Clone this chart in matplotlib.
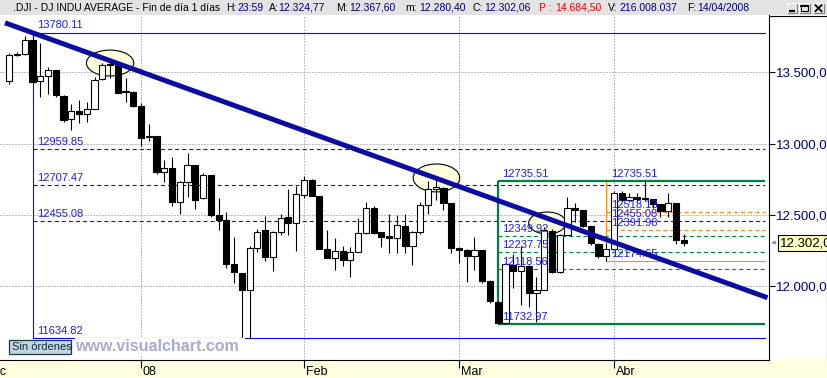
import numpy as np
import pandas as pd
import matplotlib
matplotlib.use("Agg")
import matplotlib.pyplot as plt
from matplotlib.patches import Ellipse, Rectangle

plt.rcParams['font.family'] = ['Liberation Sans', 'DejaVu Sans']
plt.rcParams['lines.scale_dashes'] = False

# ---------------- data ----------------
holidays = ['2007-12-25', '2008-01-01', '2008-01-21', '2008-02-18', '2008-03-21']
dates = pd.bdate_range('2007-12-06', '2008-04-14').drop(pd.to_datetime(holidays))

opens = [13441, 13620, 13627, 13727, 13438, 13475, 13517, 13338, 13170, 13231,
         13208, 13246, 13452, 13549, 13550, 13360, 13365, 13262, 13045, 13055,
         12800, 12827, 12590, 12735, 12852, 12617, 12778, 12501, 12467, 12159,
         12090, 11971, 12272, 12395, 12207, 12384, 12483, 12442, 12638, 12743,
         12633, 12262, 12200, 12248, 12182, 12240, 12373, 12552, 12378, 12350,
         12337, 12426, 12283, 12381, 12570, 12685, 12690, 12582, 12266, 12258,
         12213, 12254, 12040, 11893, 11740, 12148, 12110, 12145, 11950, 11975,
         12390, 12100, 12361, 12547, 12532, 12422, 12300, 12216, 12264, 12654,
         12608, 12626, 12620, 12610, 12577, 12527, 12581, 12324.77]
highs = [13634, 13645, 13755, 13780.11, 13710, 13535, 13520, 13342, 13278, 13305,
         13294, 13470, 13568, 13575, 13575, 13459, 13370, 13286, 13138, 13057,
         12886, 12909, 12740, 12933, 12852, 12797, 12781, 12617, 12520, 12348,
         12095, 12285, 12400, 12493, 12390, 12505, 12682, 12705, 12776, 12750,
         12633, 12395, 12337, 12283, 12278, 12477, 12590, 12560, 12380, 12505,
         12500, 12505, 12385, 12590, 12738, 12769, 12695, 12585, 12278, 12262,
         12348, 12255, 12045, 11900, 12160, 12230, 12280, 12150, 12067, 12415,
         12400, 12370, 12628, 12582, 12535, 12425, 12305, 12302, 12670, 12670,
         12656, 12656, 12735.51, 12615, 12580, 12652, 12582, 12367.60]
lows = [13420, 13612, 13620, 13425, 13325, 13350, 13330, 13155, 13096, 13147,
        13155, 13246, 13450, 13460, 13356, 13294, 13255, 12984, 13020, 12790,
        12735, 12565, 12505, 12628, 12545, 12610, 12488, 12395, 12126, 12021,
        11634.82, 11640, 12243, 12180, 12110, 12360, 12360, 12250, 12620, 12630,
        12260, 12195, 12114, 12140, 12067, 12240, 12370, 12370, 12278, 12231,
        12231, 12231, 12150, 12370, 12505, 12605, 12535, 12231, 12160, 12032,
        12114, 12021, 11880, 11732.97, 11733, 11986, 11870, 11857, 11752, 11972,
        12095, 12090, 12360, 12453, 12418, 12290, 12196, 12174.65, 12262, 12600,
        12590, 12590, 12600, 12550, 12488, 12488, 12300, 12280.40]
closes = [13620, 13626, 13727, 13432, 13473, 13518, 13339, 13167, 13232, 13207,
          13245, 13450, 13550, 13551, 13359, 13365, 13264, 13043, 13057, 12800,
          12827, 12589, 12735, 12853, 12606, 12778, 12501, 12466, 12159, 12099,
          11971, 12270, 12378, 12207, 12384, 12480, 12442, 12650, 12743, 12635,
          12265, 12201, 12247, 12182, 12240, 12373, 12552, 12376, 12348, 12337,
          12427, 12284, 12381, 12570, 12684, 12694, 12582, 12266, 12258, 12213,
          12254, 12040, 11894, 11740, 12156, 12110, 12145, 11951, 11972, 12392,
          12099, 12361, 12548, 12532, 12422, 12302, 12216, 12263, 12654, 12608,
          12626, 12609, 12612, 12577, 12527, 12581, 12325, 12302.06]

month_labels = ['Dic', '08', 'Feb', 'Mar', 'Abr']
month_first = ['2007-12-03', '2008-01-02', '2008-02-01', '2008-03-03', '2008-04-01']
price_ticks = [12000, 12500, 13000, 13500]

fib_blue = [13780.11, 12959.85, 12707.47, 12455.08, 11634.82]
fib_green = [12735.51, 12349.92, 12237.75, 12118.56, 11732.97]
fib_orange = [12735.51, 12518.13, 12455.08, 12391.98, 12174.65]
fib_anchor_dates = ['2007-12-11', '2008-03-10', '2008-03-31']

trend_idx = [-0.55, 97.8]
trend_prices = [13848, 11920]

ellipse_idx = [13.0, 55.1, 69.4]
ellipse_price = [13566, 12760, 12444]
ellipse_w = [6.1, 6.0, 4.8]
ellipse_h = [182, 196, 154]

last_price = 12302.06

title_parts = [
    (".DJI - DJ INDU AVERAGE - Fin de día 1 días", 'black'),
    ("H:", 'black'), ("23:59", '#000080'),
    ("A:", 'black'), ("12.324,77", '#000080'),
    ("M:", 'black'), ("12.367,60", '#000080'),
    ("m:", 'black'), ("12.280,40", '#000080'),
    ("C:", 'black'), ("12.302,06", '#000080'),
    ("P :", '#FF0000'), ("14.684,50", '#FF0000'),
    ("V:", 'black'), ("216.008.037", '#000080'),
    ("F:", 'black'), ("14/04/2008", '#000080'),
]
title_x = [13, 226, 237.7, 269.3, 278, 336, 349, 405, 419, 473, 484.7,
           539, 555.7, 608, 619, 686.7, 697]

# ---------------- helpers ----------------
def es_fmt(v):
    s = f"{v:,.2f}"
    return s.replace(',', 'X').replace('.', ',').replace('X', '.')

def bidx(d):
    return int(np.busday_count(np.datetime64(dates[0].date()), np.datetime64(d),
                               holidays=holidays))

W, H = 828, 378
fig = plt.figure(figsize=(W / 100, H / 100), dpi=100)
fig.patch.set_facecolor('white')

# background bands
bg = fig.add_axes([0, 0, 1, 1], zorder=-5)
bg.set_xlim(0, W); bg.set_ylim(H, 0); bg.axis('off')
bg.add_patch(Rectangle((0, 0), W, 15, fc='#E3E3E3', ec='none'))
bg.add_patch(Rectangle((0, 360), W, 18, fc='#FFFFE0', ec='none'))

# main axes
ax = fig.add_axes([0, 18 / H, 769 / W, 345 / H])
for s in ['top', 'left']:
    ax.spines[s].set_visible(False)
for s in ['right', 'bottom']:
    ax.spines[s].set_color('black')
    ax.spines[s].set_linewidth(0.8)

n = len(closes)
x = np.arange(n)
O = np.array(opens); Hh = np.array(highs); L = np.array(lows); C = np.array(closes)

month_pos = [bidx(d) for d in month_first]
ax.set_xticks(month_pos)
ax.set_xticklabels([])
ax.tick_params(axis='x', direction='out', length=5.8, width=0.8, color='black')

ax.yaxis.tick_right()
ax.set_yticks(price_ticks)
ax.set_yticklabels([es_fmt(p) for p in price_ticks])
ax.tick_params(axis='y', direction='out', length=4, width=0.8, pad=1,
               labelsize=9.5, labelcolor='#000080', color='black')

ax.set_xlim(-1.2, 98.0)
ax.set_ylim(11483, 13903)

for pos, lab in zip(month_pos, month_labels):
    ax.annotate(lab, xy=(pos, 0), xycoords=('data', 'axes fraction'),
                xytext=(1.3, -4.5), textcoords='offset points', ha='left', va='top',
                fontsize=9, color='black', annotation_clip=False)

# grid
dot = (0, (0.72, 1.44))
for p in price_ticks:
    ax.axhline(p, color='#808080', lw=0.72, ls=dot, zorder=0.5)
for m in month_pos[1:]:
    ax.axvline(m, color='#808080', lw=0.72, ls=dot, zorder=0.5)

right_end = 97.5
dash = (0, (2.9, 2.2))
lab_col = '#1E1EE6'

def fib_label(xpos, lvl):
    ax.annotate(f"{lvl:.2f}", xy=(xpos, lvl), xytext=(3.3, 2.9), textcoords='offset points',
                ha='left', va='baseline', fontsize=8, color=lab_col, zorder=3.5)

ia_b, ia_g, ia_o = [bidx(d) for d in fib_anchor_dates]

# orange fib
oc = '#FF8C1A'
ax.plot([ia_o, ia_o], [fib_orange[-1], fib_orange[0]], color=oc, lw=0.8, zorder=1)
ax.plot([ia_o, right_end], [fib_orange[-1]] * 2, color=oc, lw=0.8, zorder=1)
for lvl in fib_orange[1:-1]:
    if lvl in fib_blue:
        continue
    ax.plot([ia_o, right_end], [lvl] * 2, color=oc, lw=0.8, ls=dash, zorder=1)

# blue fib
bc = '#0A0AF0'
ax.plot([ia_b, ia_b], [fib_blue[-1], fib_blue[0]], color=bc, lw=0.8, zorder=1)
for lvl in (fib_blue[0], fib_blue[-1]):
    ax.plot([ia_b, right_end], [lvl] * 2, color=bc, lw=0.8, zorder=1)
for lvl in fib_blue[1:-1]:
    ax.plot([ia_b, right_end], [lvl] * 2, color=bc, lw=0.8, ls=dash, zorder=1.1)

# green fib
gc = '#007F3F'
ax.plot([ia_g, ia_g], [fib_green[-1], fib_green[0]], color=gc, lw=1.6, zorder=1.2,
        solid_capstyle='butt')
for lvl in (fib_green[0], fib_green[-1]):
    ax.plot([ia_g, right_end], [lvl] * 2, color=gc, lw=1.6, zorder=1.2, solid_capstyle='butt')
for lvl in fib_green[1:-1]:
    ax.plot([ia_g, right_end], [lvl] * 2, color=gc, lw=0.8, ls=dash, zorder=1)

for lvl in fib_blue:
    fib_label(ia_b, lvl)
for lvl in fib_green:
    fib_label(ia_g, lvl)
for lvl in fib_orange:
    fib_label(ia_o, lvl)

# ellipses
for cx, cy, w, h in zip(ellipse_idx, ellipse_price, ellipse_w, ellipse_h):
    ax.add_patch(Ellipse((cx, cy), w, h, fc='#FFFFE0', ec='black', lw=0.8, zorder=1.5))

# candles
up = C >= O
ax.vlines(x, L, Hh, color='black', lw=0.8, zorder=2)
body_bot = np.minimum(O, C)
body_h = np.maximum(np.abs(C - O), 8)
ax.bar(x, body_h, bottom=body_bot, width=0.8, color=np.where(up, 'white', 'black'),
       edgecolor='black', linewidth=0.8, zorder=2.5)

# trend line
ax.plot(trend_idx, trend_prices, color='#0C0CA0', lw=3.6, solid_capstyle='butt', zorder=4)

ax.set_xlim(-1.2, 98.0)
ax.set_ylim(11483, 13903)

# last price box
ax.annotate(es_fmt(last_price), xy=(1, last_price), xycoords=('axes fraction', 'data'),
            xytext=(7.6, 0), textcoords='offset points', ha='left', va='center',
            fontsize=9.5, color='black', annotation_clip=False,
            bbox=dict(boxstyle='square,pad=0.15', fc='#FFFFC0', ec='black', lw=0.8))
ax.annotate('«', xy=(1, last_price), xycoords=('axes fraction', 'data'),
            xytext=(1.6, 0), textcoords='offset points', ha='left', va='center',
            fontsize=6, color='black', annotation_clip=False)

# overlay (pixel coordinates)
ov = fig.add_axes([0, 0, 1, 1], zorder=10)
ov.set_xlim(0, W); ov.set_ylim(H, 0); ov.axis('off')
ov.patch.set_visible(False)

for (txt, col), tx in zip(title_parts, title_x):
    ov.text(tx, 8, txt, color=col, fontsize=7.5, ha='left', va='center')

# window buttons
for bx, bw in [(787.3, 10), (799.3, 10.7), (812.7, 11.3)]:
    ov.add_patch(Rectangle((bx, 3.3), bw, 9.4, fc='#E3E3E3', ec='none'))
    ov.plot([bx, bx + bw, bx + bw], [12.7, 12.7, 3.3], color='#808080', lw=0.8)
    ov.plot([bx, bx, bx + bw], [12.7, 3.3, 3.3], color='white', lw=0.8)
ov.plot([789.5, 795], [10.8, 10.8], color='black', lw=1.6, solid_capstyle='butt')
ov.add_patch(Rectangle((801.5, 5.2), 6.5, 6, fc='none', ec='black', lw=0.8))
ov.plot([801.5, 808], [5.6, 5.6], color='black', lw=1.4)
ov.plot([815.5, 821.5], [5.2, 11.2], color='black', lw=1.3)
ov.plot([815.5, 821.5], [11.2, 5.2], color='black', lw=1.3)

# right panel border
ov.plot([769, 828], [15.5, 15.5], color='black', lw=0.8)
ov.plot([827.4, 827.4], [15.5, 360], color='black', lw=0.8)

# watermark & status box
ov.add_patch(Rectangle((75, 337.6), 170, 17, fc='white', ec='none'))
ov.text(75, 346.5, 'www.visualchart.com', fontsize=11.5, fontweight='bold',
        color='#A9A9D2', ha='left', va='center')
ov.add_patch(Rectangle((9.5, 339.5), 62, 14.5, fc='#C4D4E4', ec='#1E3C3C', lw=0.9))
ov.text(12, 347, 'Sin órdenes', fontsize=8, color='#0A3232', ha='left', va='center')

fig.savefig('out.png', dpi=100)
